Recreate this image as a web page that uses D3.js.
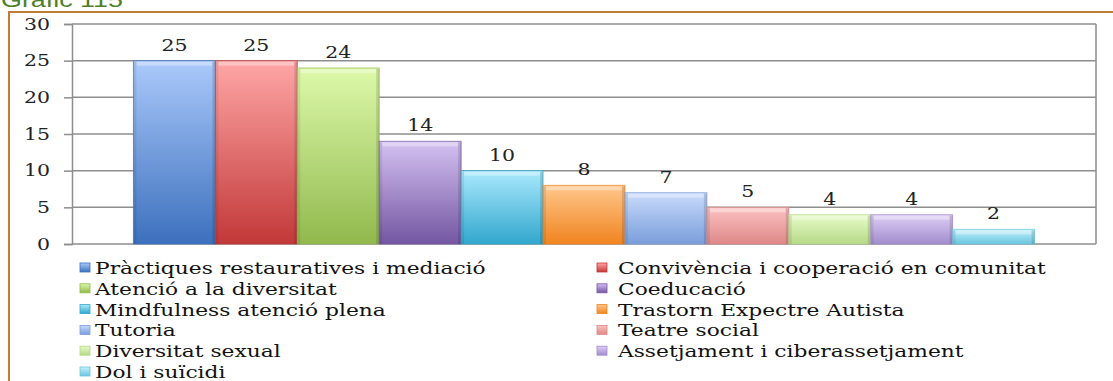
<!DOCTYPE html>
<html>
<head>
<meta charset="utf-8">
<script src="https://cdn.jsdelivr.net/npm/d3@7"></script>
<style>
  body { margin: 0; background: #fff; }
  svg { display: block; }
</style>
</head>
<body>
<div class="chart"></div>
<script>
// chart data
var series = [
  "Pràctiques restauratives i mediació",
  "Convivència i cooperació en comunitat",
  "Atenció a la diversitat",
  "Coeducació",
  "Mindfulness atenció plena",
  "Trastorn Expectre Autista",
  "Tutoria",
  "Teatre social",
  "Diversitat sexual",
  "Assetjament i ciberassetjament",
  "Dol i suïcidi"
];
var values = [25, 25, 24, 14, 10, 8, 7, 5, 4, 4, 2];
var yTicks = [0, 5, 10, 15, 20, 25, 30];

// top / bottom colours of each bar gradient
var topColors = ["#abc9fb", "#ffa6a6", "#ddf9aa", "#d4c1f1", "#aae9fd", "#ffc78c",
                 "#c8dbfb", "#fcc2c2", "#e7fbc8", "#ddcef5", "#c2f0fd"];
var bottomColors = ["#3c70bd", "#c23838", "#91b94d", "#7456a2", "#32a7cd", "#f08420",
                    "#7a9ddb", "#de8888", "#b6da88", "#a38dce", "#6ac6de"];

var svgWidth = 1113;
var svgHeight = 381;

// the source picture is stretched sideways, so text gets a horizontal scale
var stretch = 1.28;

var margin = { top: 24, right: 17, bottom: 137, left: 72 };
var width = svgWidth - margin.left - margin.right;
var height = svgHeight - margin.top - margin.bottom;

var svg = d3.select(".chart")
  .append("svg")
  .attr("width", svgWidth)
  .attr("height", svgHeight);

// gradients
var defs = svg.append("defs");
series.forEach(function(s, i) {
  var g = defs.append("linearGradient")
    .attr("id", "grad" + i)
    .attr("x1", 0).attr("y1", 0).attr("x2", 0).attr("y2", 1);
  g.append("stop").attr("offset", "0%").attr("stop-color", topColors[i]);
  g.append("stop").attr("offset", "100%").attr("stop-color", bottomColors[i]);
});

// title, cut off by the top of the page
svg.append("text")
  .attr("transform", `translate(1, 7) scale(${stretch}, 1)`)
  .attr("font-family", "Liberation Sans, sans-serif")
  .attr("font-size", "21px")
  .attr("fill", "#4f7f2a")
  .text("Gràfic 115");

// frame
svg.append("path")
  .attr("d", `M9,${svgHeight + 5} V12 H${svgWidth + 5}`)
  .attr("fill", "none")
  .attr("stroke", "#c27b38")
  .attr("stroke-width", 2);

var chartGroup = svg.append("g")
  .attr("transform", `translate(${margin.left}, ${margin.top})`);

var x = d3.scaleBand()
  .domain(series)
  .range([0, width])
  .paddingInner(0)
  .paddingOuter(0.75);

var y = d3.scaleLinear()
  .domain([0, 30])
  .range([height, 0]);

// gridlines
chartGroup.append("g")
  .selectAll("line")
  .data(yTicks)
  .enter()
  .append("line")
  .attr("x1", 0)
  .attr("x2", width)
  .attr("y1", d => y(d))
  .attr("y2", d => y(d))
  .attr("stroke", "#8e8e8e")
  .attr("stroke-width", 1.5);

chartGroup.append("line")
  .attr("x1", width).attr("x2", width)
  .attr("y1", 0).attr("y2", height)
  .attr("stroke", "#8e8e8e")
  .attr("stroke-width", 1.5);

// left axis
var leftAxis = d3.axisLeft(y).tickValues(yTicks).tickSize(8).tickPadding(14);
var axisG = chartGroup.append("g").call(leftAxis);
axisG.select(".domain").attr("stroke", "#8e8e8e").attr("stroke-width", 1.5);
axisG.selectAll(".tick line").attr("stroke", "#8e8e8e").attr("stroke-width", 1.5);
axisG.selectAll(".tick text")
  .attr("x", null)
  .attr("transform", `translate(-22, 0) scale(${stretch}, 1)`)
  .attr("font-family", "DejaVu Serif, serif")
  .attr("font-size", "16px")
  .attr("fill", "#222");

// bars
var bars = chartGroup.append("g")
  .selectAll("g")
  .data(values)
  .enter()
  .append("g");

bars.append("rect")
  .attr("x", (d, i) => x(series[i]))
  .attr("y", d => y(d))
  .attr("width", x.bandwidth())
  .attr("height", d => height - y(d))
  .attr("fill", (d, i) => `url(#grad${i})`)
  .attr("stroke", (d, i) => bottomColors[i])
  .attr("stroke-opacity", 0.7)
  .attr("stroke-width", 1);

// bevel highlight on top
bars.append("rect")
  .attr("x", (d, i) => x(series[i]) + 3)
  .attr("y", d => y(d) + 1)
  .attr("width", x.bandwidth() - 6)
  .attr("height", 4)
  .attr("fill", "#fff")
  .attr("opacity", 0.35);

// bevel shade on sides
bars.append("rect")
  .attr("x", (d, i) => x(series[i]) + x.bandwidth() - 3)
  .attr("y", d => y(d) + 1)
  .attr("width", 3)
  .attr("height", d => height - y(d) - 1)
  .attr("fill", "#000")
  .attr("opacity", 0.12);

bars.append("rect")
  .attr("x", (d, i) => x(series[i]))
  .attr("y", d => y(d) + 1)
  .attr("width", 3)
  .attr("height", d => height - y(d) - 1)
  .attr("fill", "#000")
  .attr("opacity", 0.08);

// value labels
bars.append("text")
  .attr("transform", (d, i) => `translate(${x(series[i]) + x.bandwidth() / 2}, ${y(d) - 10}) scale(${stretch}, 1)`)
  .attr("text-anchor", "middle")
  .attr("font-family", "DejaVu Serif, serif")
  .attr("font-size", "16px")
  .attr("fill", "#222")
  .text(d => d);

// legend
var legendCols = [80, 597];
var legend = svg.append("g")
  .selectAll("g")
  .data(series)
  .enter()
  .append("g")
  .attr("transform", (d, i) => `translate(${legendCols[i % 2]}, ${268 + Math.floor(i / 2) * 20.8})`);

legend.append("rect")
  .attr("x", 0)
  .attr("y", -5)
  .attr("width", 10)
  .attr("height", 9)
  .attr("fill", (d, i) => `url(#grad${i})`)
  .attr("stroke", (d, i) => bottomColors[i])
  .attr("stroke-width", 0.8);

legend.append("text")
  .attr("transform", (d, i) => `translate(${i % 2 === 0 ? 15 : 21}, 6) scale(${stretch}, 1)`)
  .attr("font-family", "DejaVu Serif, serif")
  .attr("font-size", "17px")
  .attr("fill", "#111")
  .text(d => d);
</script>
</body>
</html>
